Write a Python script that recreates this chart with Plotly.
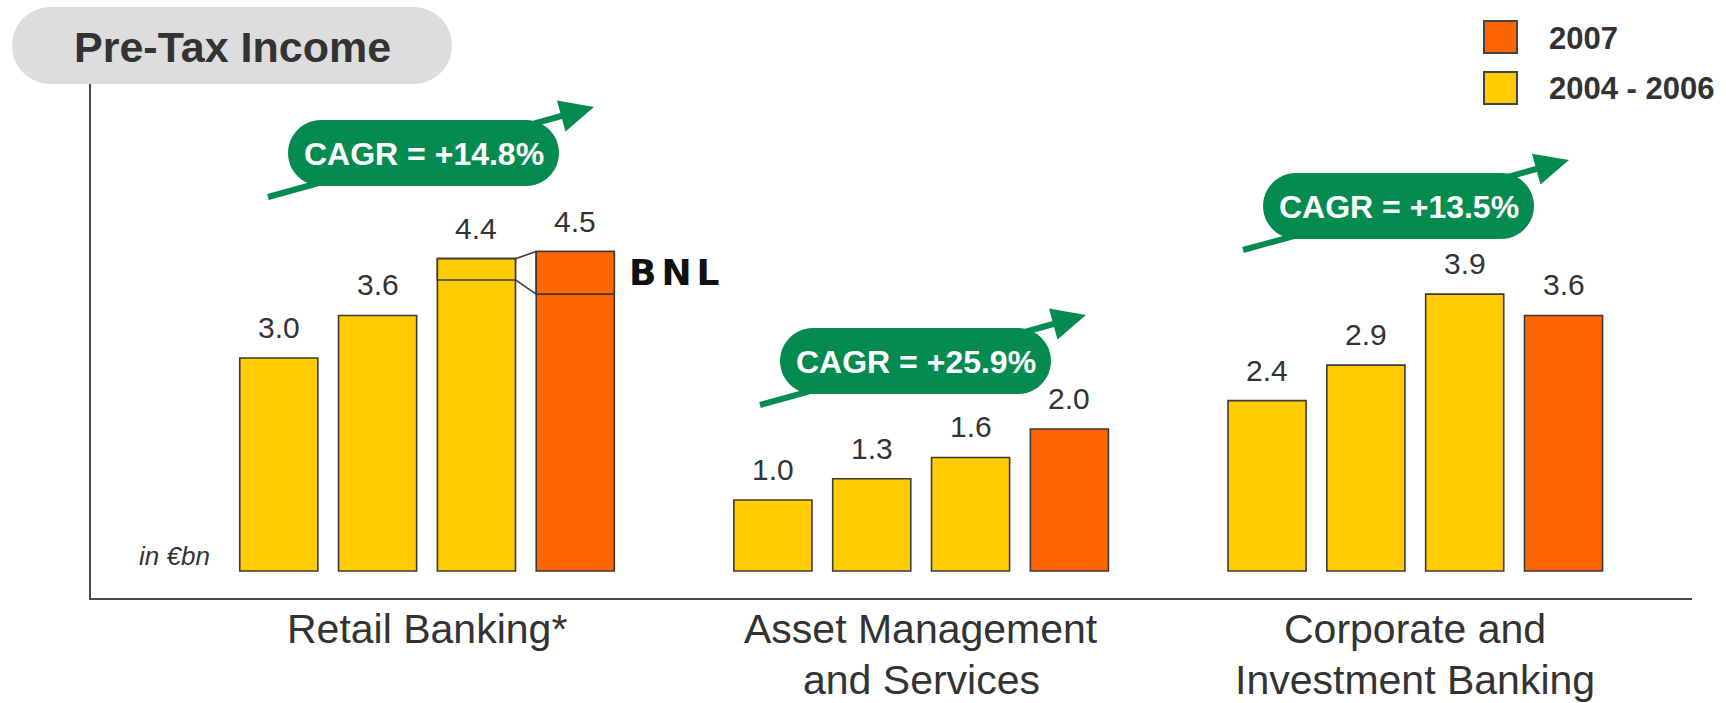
import math
import plotly.graph_objects as go

# ---------------------------------------
# 1. Data (EUR bn, pre-tax income)
# ---------------------------------------
segments = ["Retail Banking*", "Asset Management<br>and Services",
            "Corporate and<br>Investment Banking"]
pti_2004 = [3.0, 1.0, 2.4]
pti_2005 = [3.6, 1.3, 2.9]
pti_2006 = [4.4, 1.6, 3.9]
pti_2007 = [4.5, 2.0, 3.6]
# BNL contribution inside Retail Banking (top slice of the bar)
bnl_2006 = [0.3, 0.0, 0.0]
bnl_2007 = [0.6, 0.0, 0.0]
cagr_labels = ["CAGR = +14.8%", "CAGR = +25.9%", "CAGR = +13.5%"]
legend_labels = ["2007", "2004 - 2006"]

# ---------------------------------------
# 2. Styles / layout helpers
# ---------------------------------------
YELLOW = "#FFCC00"
ORANGE = "#FF6600"
GREEN = "#048C50"
DARK = "#333333"
EDGE = "#3a3a3a"
SANS = "Arial, Liberation Sans, sans-serif"
NARROW = "Liberation Sans Narrow, Arial Narrow, Liberation Sans, sans-serif"

W, H = 1726, 703
L, R, T, B = 91, 1692, 84, 598   # plot area in pixels
BAR_W = 0.79
GROUP_STEP = 5


def to_paper(x, y):
    return (x - L) / (R - L), (B - y) / (B - T)


def path_from(points):
    pp = [to_paper(x, y) for x, y in points]
    return "M " + " L ".join(f"{x:.5f},{y:.5f}" for x, y in pp) + " Z"


def pill(x0, y0, x1, y1, n=24):
    r = (y1 - y0) / 2
    cy = (y0 + y1) / 2
    pts = []
    for k in range(n + 1):
        a = -math.pi / 2 + math.pi * k / n
        pts.append((x1 - r + r * math.cos(a), cy + r * math.sin(a)))
    for k in range(n + 1):
        a = math.pi / 2 + math.pi * k / n
        pts.append((x0 + r + r * math.cos(a), cy + r * math.sin(a)))
    return path_from(pts)


# ---------------------------------------
# 3. Bars
# ---------------------------------------
yearly = [pti_2004, pti_2005, pti_2006]
x_yel, y_yel = [], []
for g in range(len(segments)):
    for i, vals in enumerate(yearly):
        x_yel.append(g * GROUP_STEP + i)
        y_yel.append(vals[g])
x_org = [g * GROUP_STEP + 3 for g in range(len(segments))]

bar_line = dict(color=EDGE, width=1.6)
fig = go.Figure()
fig.add_trace(go.Bar(x=x_yel, y=y_yel, width=BAR_W, marker=dict(color=YELLOW, line=bar_line),
                     name="2004 - 2006", hoverinfo="y"))
fig.add_trace(go.Bar(x=x_org, y=pti_2007, width=BAR_W, marker=dict(color=ORANGE, line=bar_line),
                     name="2007", hoverinfo="y"))

# BNL slices and connectors
conn_x, conn_y = [], []
for g in range(len(segments)):
    if bnl_2006[g] <= 0 and bnl_2007[g] <= 0:
        continue
    x6, x7 = g * GROUP_STEP + 2, g * GROUP_STEP + 3
    fig.add_trace(go.Bar(x=[x6], y=[bnl_2006[g]], base=[pti_2006[g] - bnl_2006[g]], width=BAR_W,
                         marker=dict(color=YELLOW, line=bar_line), hoverinfo="skip"))
    fig.add_trace(go.Bar(x=[x7], y=[bnl_2007[g]], base=[pti_2007[g] - bnl_2007[g]], width=BAR_W,
                         marker=dict(color=ORANGE, line=bar_line), hoverinfo="skip"))
    conn_x += [x6 + BAR_W / 2, x7 - BAR_W / 2, None, x6 + BAR_W / 2, x7 - BAR_W / 2, None]
    conn_y += [pti_2006[g], pti_2007[g], None,
               pti_2006[g] - bnl_2006[g], pti_2007[g] - bnl_2007[g], None]
    fig.add_annotation(x=x7 + BAR_W / 2, y=pti_2007[g] - bnl_2007[g] / 2,
                       text='<span style="letter-spacing:5px">BNL</span>',
                       showarrow=False, xanchor="left", yanchor="middle", xshift=13,
                       font=dict(family="DejaVu Sans, sans-serif", size=36, color="#111111",
                                 weight="bold"))
fig.add_trace(go.Scatter(x=conn_x, y=conn_y, mode="lines", line=dict(color=EDGE, width=1.6),
                         hoverinfo="skip"))

# value labels
for xs, ys in [(x_yel, y_yel), (x_org, pti_2007)]:
    for x, v in zip(xs, ys):
        fig.add_annotation(x=x, y=v, text=f"{v:.1f}", showarrow=False, yanchor="bottom",
                           yshift=12, font=dict(family=NARROW, size=30, color=DARK))

# category labels under the axis (tighter line spacing than tick labels)
for g, name in enumerate(segments):
    for k, line in enumerate(name.split("<br>")):
        _, ly = to_paper(0, 629 + 51 * k)
        fig.add_annotation(x=g * GROUP_STEP + 1.5, xref="x", y=ly, yref="paper", text=line,
                           showarrow=False, xanchor="center", yanchor="middle",
                           font=dict(family=SANS, size=41, color=DARK))

# ---------------------------------------
# 4. Decorations: title pill, legend, CAGR arrows
# ---------------------------------------
shapes = []
shapes.append(dict(type="path", xref="paper", yref="paper", path=pill(12, 7, 452, 84),
                   fillcolor="#DDDDDD", line=dict(width=0), layer="below"))
tx, ty = to_paper(232, 47)
fig.add_annotation(xref="paper", yref="paper", x=tx, y=ty, text="Pre-Tax Income",
                   showarrow=False, xanchor="center", yanchor="middle",
                   font=dict(family=SANS, size=43, color=DARK, weight="bold"))

# legend
for k, (lab, col) in enumerate(zip(legend_labels, [ORANGE, YELLOW])):
    y0 = 21 + 51 * k
    x0p, y0p = to_paper(1484, y0)
    x1p, y1p = to_paper(1517, y0 + 32)
    shapes.append(dict(type="rect", xref="paper", yref="paper", x0=x0p, x1=x1p, y0=y0p, y1=y1p,
                       fillcolor=col, line=dict(color="#444444", width=2)))
    lx, ly = to_paper(1547, y0 + 17)
    fig.add_annotation(xref="paper", yref="paper", x=lx, y=ly, text=lab, showarrow=False,
                       xanchor="left", yanchor="middle",
                       font=dict(family=SANS, size=31, color=DARK, weight="bold"))

# CAGR callouts (arrow start points in pixels)
arrow_starts = [(268, 197), (760, 405), (1243, 250)]
for (sx, sy), lab in zip(arrow_starts, cagr_labels):
    tip = (sx + 326, sy - 90)
    ln = math.hypot(326, 90)
    ux, uy = 326 / ln, -90 / ln
    bx, by = tip[0] - 34 * ux, tip[1] - 34 * uy
    px_, py_ = -uy, ux
    x0p, y0p = to_paper(sx, sy)
    x1p, y1p = to_paper(bx + 2 * ux, by + 2 * uy)
    shapes.append(dict(type="line", xref="paper", yref="paper", x0=x0p, y0=y0p, x1=x1p, y1=y1p,
                       line=dict(color=GREEN, width=6)))
    shapes.append(dict(type="path", xref="paper", yref="paper",
                       path=path_from([tip, (bx + 16 * px_, by + 16 * py_),
                                       (bx - 16 * px_, by - 16 * py_)]),
                       fillcolor=GREEN, line=dict(width=0)))
    shapes.append(dict(type="path", xref="paper", yref="paper",
                       path=pill(sx + 20, sy - 77, sx + 291, sy - 11),
                       fillcolor=GREEN, line=dict(width=0)))
    cx, cy = to_paper(sx + 155.5, sy - 43)
    fig.add_annotation(xref="paper", yref="paper", x=cx, y=cy, text=lab, showarrow=False,
                       xanchor="center", yanchor="middle",
                       font=dict(family=SANS, size=32, color="white", weight="bold"))

ix, iy = to_paper(212, 556)
fig.add_annotation(xref="paper", yref="paper", x=ix, y=iy, text="<i>in €bn</i>", showarrow=False,
                   xanchor="right", yanchor="middle",
                   font=dict(family=SANS, size=26, color=DARK))

fig.update_layout(
    width=W, height=H,
    margin=dict(l=L, r=W - R, t=T, b=H - B, pad=0),
    plot_bgcolor="white", paper_bgcolor="white",
    barmode="overlay", showlegend=False,
    shapes=shapes,
    xaxis=dict(range=[-1.9, 14.3], showticklabels=False, ticks="", showgrid=False,
               zeroline=False, automargin=False,
               showline=True, linecolor="#4a4a4a", linewidth=2),
    yaxis=dict(range=[-0.38, 6.86], showticklabels=False, ticks="", showgrid=False,
               zeroline=False, showline=True, linecolor="#4a4a4a", linewidth=2,
               automargin=False),
)

fig.write_html("out.html", config={"displayModeBar": False},
               post_script="document.body.style.margin='0';")
